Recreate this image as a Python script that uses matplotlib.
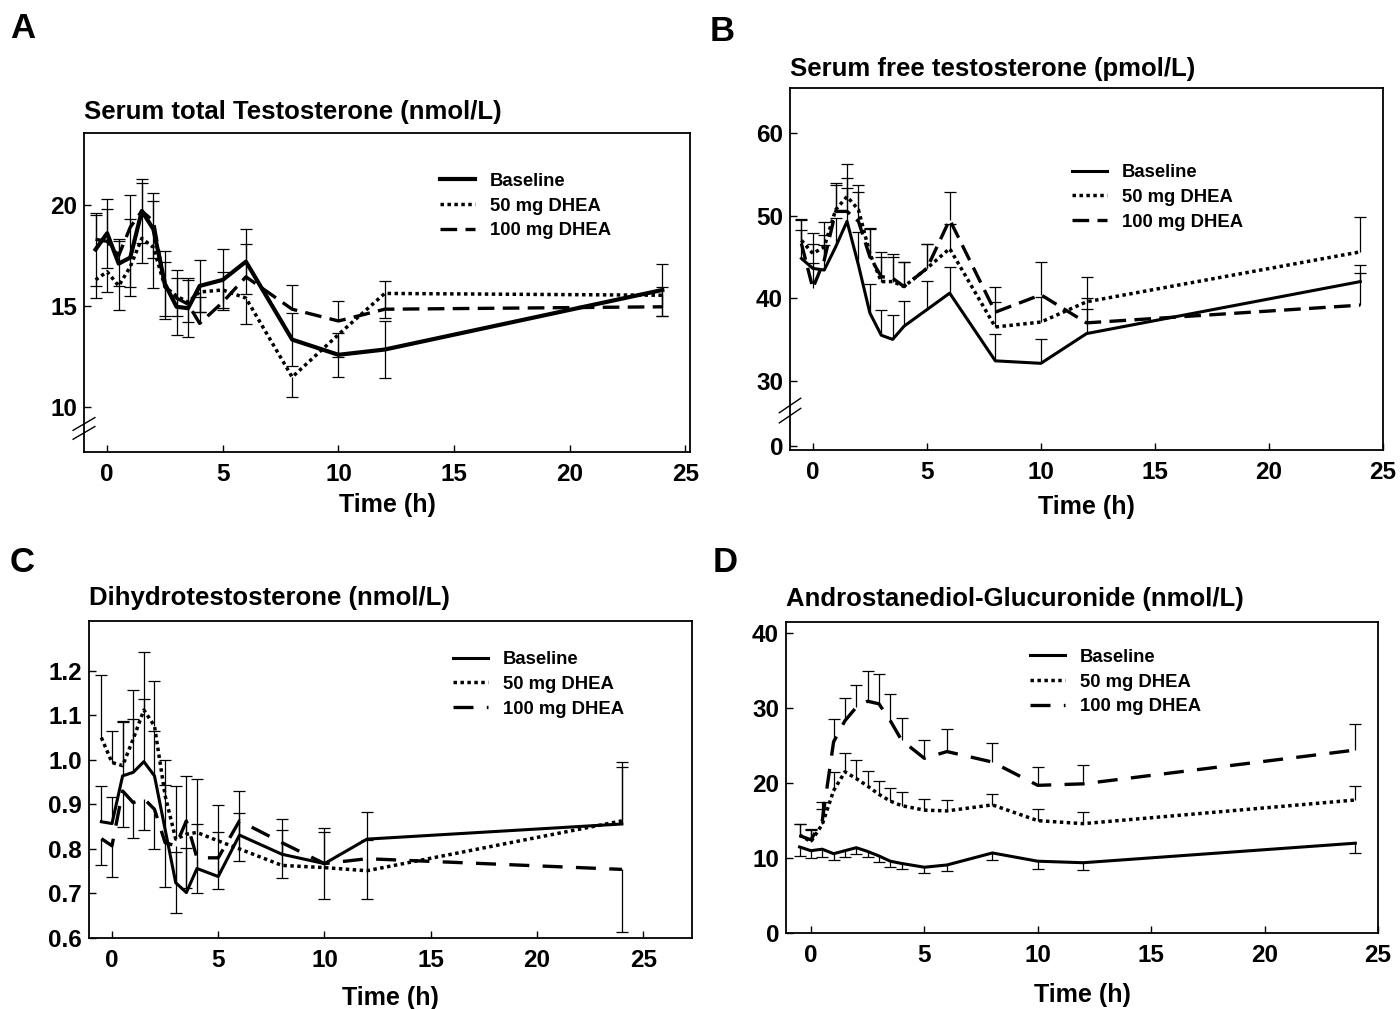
import numpy as np
import matplotlib
matplotlib.use("Agg")
import matplotlib.pyplot as plt

plt.rcParams['font.family'] = ['Liberation Sans', 'DejaVu Sans']
plt.rcParams['font.weight'] = 'bold'

# sampling times (h)
t = np.array([-0.5, 0, 0.5, 1, 1.5, 2, 2.5, 3, 3.5, 4, 5, 6, 8, 10, 12, 24])
series_names = ["Baseline", "50 mg DHEA", "100 mg DHEA"]

# A: serum total testosterone (nmol/L)
a_base = [17.8, 18.6, 17.1, 17.4, 19.7, 18.8, 16.1, 14.97, 14.9, 16.0, 16.3, 17.2, 13.35, 12.6, 12.86, 15.8]
a_50 = [16.3, 16.7, 16.0, 16.95, 18.35, 17.9, 15.96, 15.5, 15.2, 15.7, 15.8, 15.4, 11.5, 13.6, 15.63, 15.54]
a_100 = [18.3, 18.2, 17.5, 18.9, 19.7, 19.2, 15.96, 15.4, 15.1, 14.15, 15.2, 16.45, 14.85, 14.27, 14.85, 14.97]
a_base_err = [1.8, 1.7, 1.1, 1.9, 1.6, 1.4, 1.6, 1.4, 1.4, 1.3, 1.5, 1.6, 1.3, 1.1, 1.4, 1.3]
a_50_err = [0.9, 1.0, 1.2, 1.0, 1.2, 2.0, 1.6, 1.0, 1.0, 1.0, 0.9, 1.3, 1.0, 1.1, 1.2, 1.0]
a_100_err = [1.2, 1.6, 0.8, 1.6, 1.4, 1.4, 1.2, 1.4, 1.3, 1.3, 1.5, 1.6, 1.2, 1.0, 1.4, 1.0]

# B: serum free testosterone (pmol/L)
b_base = [44.8, 43.6, 43.4, 46.2, 49.3, 44.0, 38.2, 35.5, 35.0, 36.6, 38.6, 40.6, 32.4, 32.1, 35.7, 42.0]
b_50 = [47.0, 45.4, 46.2, 50.7, 52.3, 50.7, 45.4, 42.0, 42.0, 41.4, 43.6, 46.0, 36.5, 37.1, 39.55, 45.6]
b_100 = [46.6, 41.2, 44.6, 50.5, 50.5, 49.3, 45.0, 42.6, 42.4, 41.4, 43.6, 49.5, 38.3, 40.4, 37.0, 39.15]
b_base_err = [3.5, 3.0, 3.0, 3.5, 4.0, 4.0, 3.5, 3.0, 3.0, 3.0, 3.5, 3.2, 3.2, 3.0, 3.0, 1.0]
b_50_err = [2.5, 2.5, 3.0, 3.0, 4.0, 3.0, 3.0, 3.0, 3.0, 3.0, 3.0, 3.0, 3.0, 3.0, 3.0, 4.2]
b_100_err = [3.0, 3.0, 3.0, 3.5, 4.0, 3.5, 3.5, 3.0, 3.0, 3.0, 3.0, 3.4, 3.0, 4.0, 3.0, 4.8]
b_ytick_pos = [22.1, 30, 40, 50, 60]
b_ytick_lab = ["0", "30", "40", "50", "60"]

# C: dihydrotestosterone (nmol/L)
c_base = [0.861, 0.857, 0.964, 0.972, 0.996, 0.964, 0.844, 0.724, 0.702, 0.756, 0.738, 0.831, 0.788, 0.767, 0.822, 0.856]
c_50 = [1.05, 0.994, 0.987, 1.047, 1.112, 1.076, 0.92, 0.822, 0.833, 0.837, 0.818, 0.80, 0.763, 0.758, 0.751, 0.863]
c_100 = [0.823, 0.807, 0.93, 0.904, 0.913, 0.889, 0.814, 0.807, 0.863, 0.78, 0.78, 0.863, 0.814, 0.767, 0.778, 0.754]
c_base_err = [0.08, 0.06, 0.12, 0.12, 0.14, 0.10, 0.10, 0.07, 0.10, 0.10, 0.10, 0.10, 0.08, 0.08, 0.06, 0.14]
c_50_err = [0.14, 0.07, 0.10, 0.11, 0.13, 0.10, 0.08, 0.12, 0.13, 0.12, 0.08, 0.08, 0.08, 0.08, 0.07, 0.12]
c_100_err = [0.06, 0.07, 0.08, 0.08, 0.07, 0.09, 0.10, 0.15, 0.15, 0.08, 0.07, 0.09, 0.08, 0.08, 0.09, 0.14]

# D: androstanediol-glucuronide (nmol/L)
d_base = [11.5, 11.0, 11.2, 10.6, 11.0, 11.4, 10.9, 10.3, 9.6, 9.3, 8.8, 9.1, 10.7, 9.6, 9.4, 12.0]
d_50 = [13.1, 12.2, 14.5, 19.0, 21.5, 20.6, 19.6, 18.5, 17.6, 17.0, 16.4, 16.3, 17.1, 15.0, 14.6, 17.75]
d_100 = [13.0, 12.45, 15.0, 25.5, 28.3, 30.1, 30.9, 30.55, 28.3, 25.7, 23.3, 24.2, 22.8, 19.7, 19.9, 24.4]
d_base_err = [1.2, 1.0, 1.0, 0.8, 0.8, 0.8, 0.8, 0.8, 0.8, 0.8, 0.8, 0.8, 1.0, 1.0, 1.0, 1.3]
d_50_err = [1.5, 1.5, 2.0, 2.5, 2.5, 2.5, 2.0, 1.8, 1.8, 1.8, 1.5, 1.5, 1.5, 1.5, 1.5, 1.8]
d_100_err = [1.5, 1.5, 2.5, 3.0, 3.0, 3.0, 4.0, 4.0, 3.5, 3.0, 2.5, 3.0, 2.5, 2.5, 2.5, 3.5]


def err_bar(ax, y, e, side):
    e = np.array(e)
    z = np.zeros_like(e)
    if side == "up":
        yerr = [z, e]
    elif side == "down":
        yerr = [e, z]
    else:
        yerr = [e, e]
    _, caps, bars = ax.errorbar(t, y, yerr=yerr, fmt="none", ecolor="black",
                                elinewidth=0.9, capsize=4, capthick=0.9, zorder=2)
    if side == "up":
        caps[0].set_visible(False)
    elif side == "down":
        caps[1].set_visible(False)


def panel(ax, data, errs, sides, lw, dash, xlim, ylim, title, title_y, leg_anchor, xpad):
    styles = ["-", (0, (1.0, 1.0)), dash]
    widths = [lw, 2.5, 2.4]
    for y, e, s, ls, w, name in zip(data, errs, sides, styles, widths, series_names):
        err_bar(ax, y, e, s)
        ax.plot(t, y, color="black", linestyle=ls, linewidth=w, label=name, zorder=3)
    ax.set_xlim(*xlim)
    ax.set_ylim(*ylim)
    ax.set_xticks([0, 5, 10, 15, 20, 25])
    ax.tick_params(direction="in", length=5, width=1, labelsize=17.5)
    ax.tick_params(axis="x", pad=8)
    ax.tick_params(axis="y", pad=5)
    for sp in ax.spines.values():
        sp.set_linewidth(1.3)
    ax.set_xlabel("Time (h)", fontsize=18, fontweight="bold", labelpad=xpad)
    ax.text(0.0, title_y, title, transform=ax.transAxes, fontsize=18.5,
            fontweight="bold", ha="left", va="center")
    ax.legend(loc="upper left", bbox_to_anchor=leg_anchor, frameon=False,
              fontsize=13.3, handlelength=1.9, handletextpad=0.8,
              labelspacing=0.42, borderpad=0, borderaxespad=0)


def axis_break(ax, y0):
    for dy in (0.0, 0.028):
        ax.plot([-0.018, 0.018], [y0 + dy - 0.02, y0 + dy + 0.02],
                transform=ax.transAxes, color="black", lw=1.0, clip_on=False)


fig = plt.figure(figsize=(14, 10.09), dpi=100)

axA = fig.add_axes([0.060, 0.552, 0.4329, 0.3162])
panel(axA, [a_base, a_50, a_100], [a_base_err, a_50_err, a_100_err],
      ["both", "down", "up"], 3.0, (0, (5, 2.5)), (-1.0, 25.2), (7.8, 23.55),
      "Serum total Testosterone (nmol/L)", 1.066, (0.587, 0.875), 5)
axA.set_yticks([10, 15, 20])
axis_break(axA, 0.06)

axB = fig.add_axes([0.5643, 0.554, 0.4236, 0.3588])
panel(axB, [b_base, b_50, b_100], [b_base_err, b_50_err, b_100_err],
      ["up", "up", "up"], 2.2, (0, (5, 2.5)), (-1.0, 25.0), (21.6, 65.45),
      "Serum free testosterone (pmol/L)", 1.052, (0.476, 0.79), 8)
axB.set_yticks(b_ytick_pos)
axB.set_yticklabels(b_ytick_lab)
axis_break(axB, 0.095)

axC = fig.add_axes([0.0636, 0.0704, 0.4307, 0.3142])
panel(axC, [c_base, c_50, c_100], [c_base_err, c_50_err, c_100_err],
      ["up", "up", "down"], 2.2, (0, (6, 4)), (-1.08, 27.3), (0.6, 1.312),
      "Dihydrotestosterone (nmol/L)", 1.073, (0.604, 0.905), 10)
axC.set_yticks([0.6, 0.7, 0.8, 0.9, 1.0, 1.1, 1.2])
axC.set_yticklabels(["0.6", "0.7", "0.8", "0.9", "1.0", "1.1", "1.2"])

axD = fig.add_axes([0.5614, 0.0750, 0.4229, 0.3082])
panel(axD, [d_base, d_50, d_100], [d_base_err, d_50_err, d_100_err],
      ["down", "up", "up"], 2.2, (0, (6, 4)), (-1.1, 25.0), (0, 41.4),
      "Androstanediol-Glucuronide (nmol/L)", 1.074, (0.412, 0.915), 11)
axD.set_yticks([0, 10, 20, 30, 40])

for lab, x, y in [("A", 0.016, 0.972), ("B", 0.516, 0.969), ("C", 0.016, 0.443), ("D", 0.518, 0.443)]:
    fig.text(x, y, lab, fontsize=25, fontweight="bold", ha="center", va="center")

fig.savefig("out.png", dpi=100)
